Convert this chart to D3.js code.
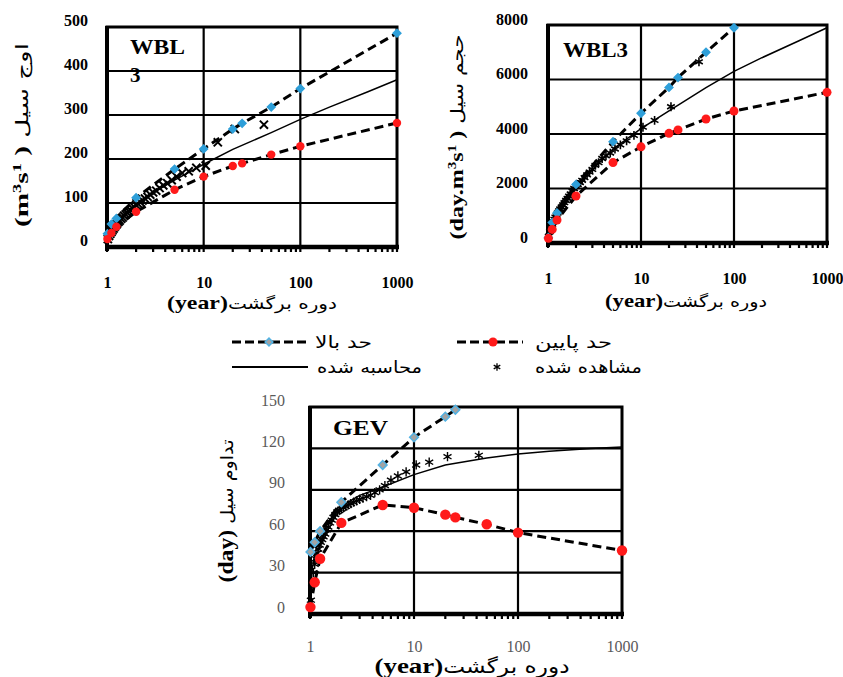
<!DOCTYPE html>
<html>
<head>
<meta charset="utf-8">
<script src="https://cdn.jsdelivr.net/npm/d3@7"></script>
<style>
  body { margin: 0; background: #fff; }
</style>
</head>
<body>
<svg width="843" height="677"></svg>
<script>
// return periods (years)
const boundT = [1.01, 1.11, 1.25, 2, 5, 10, 20, 25, 50, 100, 1000];
const calcT = [1.001, 1.01, 1.05, 1.1, 1.2, 1.5, 2, 3, 5, 10, 20, 50, 100, 200, 500, 1000];
const obsT = [42, 21, 14, 10.5, 8.4, 7, 6, 5.25, 4.67, 4.2, 3.82, 3.5, 3.23, 3, 2.8, 2.63, 2.47, 2.33, 2.21, 2.1,
  2, 1.91, 1.83, 1.75, 1.68, 1.62, 1.56, 1.5, 1.45, 1.4, 1.35, 1.31, 1.27, 1.24, 1.2, 1.17, 1.14, 1.11, 1.08, 1.05, 1.02];
const xTicks = [1, 10, 100, 1000];

// peak flow, WBL3 (m3/s)
const peakUpper = [30, 52, 65, 112, 177, 223, 268, 281, 318, 360, 486];
const peakLower = [18, 32, 46, 80, 130, 160, 184, 190, 210, 229, 282];
const peakCalc = [8, 18, 30, 40, 52, 75, 97, 123, 152, 188, 222, 260, 290, 318, 353, 380];
const peakObs = [278, 268, 238, 185, 180, 172, 168, 160, 152, 145, 140, 134, 128, 124, 119, 114, 110, 106, 102, 98,
  95, 91, 88, 84, 81, 78, 74, 71, 67, 64, 60, 57, 53, 50, 46, 42, 38, 34, 30, 25, 18];
const peakTicks = [0, 100, 200, 300, 400, 500];

// flood volume, WBL3 (day.m3/s)
const volUpper = [200, 750, 1100, 2150, 3720, 4760, 5710, 6070, 7000, 7900, null];
const volLower = [170, 500, 840, 1725, 2950, 3530, 4025, 4150, 4550, 4845, 5530];
const volCalc = [50, 250, 550, 800, 1150, 1650, 2100, 2700, 3450, 4200, 4850, 5700, 6300, 6800, 7420, 7900];
const volObs = [6650, 5000, 4500, 4250, 3950, 3750, 3600, 3450, 3300, 3200, 3100, 2950, 2850, 2700, 2600, 2500, 2400, 2300, 2220, 2150,
  2080, 2000, 1900, 1800, 1720, 1640, 1560, 1480, 1400, 1320, 1250, 1180, 1100, 1020, 950, 870, 780, 680, 560, 420, 250];
const volTicks = [0, 2000, 4000, 6000, 8000];

// flood duration, GEV (day)
const durUpper = [45, 52, 60, 81, 108, 128, 143, 148, null, null, null];
const durLower = [5, 23, 40, 66, 79, 77, 72, 70, 65, 59, 46];
const durCalc = [5, 15, 32, 42, 53, 67, 78, 86, 92, 101, 108, 113, 116, 118, 120, 121];
const durObs = [115, 114, 110, 108, 103, 100, 97, 93, 90, 88, 86, 85, 84, 83, 82, 81, 80, 79, 78, 77,
  76, 75, 74, 72, 70, 68, 66, 63, 61, 58, 56, 54, 52, 50, 47, 44, 40, 36, 30, 22, 10];
const durTicks = [0, 30, 60, 90, 120, 150];

const serif = '"Liberation Serif", "Times New Roman", serif';
const pers = '"DejaVu Sans", sans-serif';
const blue = '#2e9fd9';
const red = '#ff1a1a';

const svg = d3.select('svg');

const panels = [
  {
    left: 107, right: 397, top: 27, bottom: 247, yMax: 500, yTicks: peakTicks,
    upper: peakUpper, lower: peakLower, calc: peakCalc, obs: peakObs,
    yLabelX: 88, yLabelShift: 7, xLabelY: 282, labelWeight: 'bold', labelColor: '#000', labelSize: 16,
    obsSymbol: d3.symbolTimes, obsSize: 45, obsWidth: 2, diamondFill: blue, diamondStroke: blue, diamondSize: 30, dotR: 4.2,
    name: [{ t: 'WBL', x: 130, y: 54, len: 55 }, { t: '3', x: 130, y: 82 }], nameSize: 21,
    xTitle: { x: 252, y: 309, len: 170, parts: [{ t: '(year)', f: serif, w: 'bold', s: 19 }, { t: 'دوره برگشت', f: pers, s: 16 }] },
    yTitle: { x: 28, y: 135, len: 184, parts: [{ t: '(m', f: serif, w: 'bold', s: 19 }, { t: '3', f: serif, w: 'bold', s: 12, sup: true },
      { t: 's', f: serif, w: 'bold', s: 19 }, { t: '1', f: serif, w: 'bold', s: 12, sup: true }, { t: ' )', f: serif, w: 'bold', s: 19 },
      { t: ' اوج سیل', f: pers, s: 17 }] }
  },
  {
    left: 548, right: 827, top: 25, bottom: 243, yMax: 8000, yTicks: volTicks,
    upper: volUpper, lower: volLower, calc: volCalc, obs: volObs,
    yLabelX: 528, yLabelShift: 6, xLabelY: 278, labelWeight: 'bold', labelColor: '#000', labelSize: 16,
    obsSymbol: d3.symbolAsterisk || d3.symbolCross, obsSize: 55, obsWidth: 1.6, diamondFill: blue, diamondStroke: blue, diamondSize: 30, dotR: 4.5,
    name: [{ t: 'WBL3', x: 563, y: 57, len: 65 }], nameSize: 22,
    xTitle: { x: 686, y: 307, len: 162, parts: [{ t: '(year)', f: serif, w: 'bold', s: 19 }, { t: 'دوره برگشت', f: pers, s: 16 }] },
    yTitle: { x: 463, y: 137, len: 205, parts: [{ t: '(day.m', f: serif, w: 'bold', s: 19 }, { t: '3', f: serif, w: 'bold', s: 12, sup: true },
      { t: 's', f: serif, w: 'bold', s: 19 }, { t: '1', f: serif, w: 'bold', s: 12, sup: true }, { t: ' )', f: serif, w: 'bold', s: 19 },
      { t: ' حجم سیل', f: pers, s: 17 }] }
  },
  {
    left: 310, right: 622, top: 407, bottom: 614, yMax: 150, yTicks: durTicks,
    upper: durUpper, lower: durLower, calc: durCalc, obs: durObs,
    yLabelX: 285, yLabelShift: 7, xLabelY: 646, labelWeight: 'normal', labelColor: '#5a5a5a', labelSize: 16,
    obsSymbol: d3.symbolAsterisk || d3.symbolCross, obsSize: 60, obsWidth: 1.4, diamondFill: '#a3a3a3', diamondStroke: '#52b2e3', diamondSize: 38, dotR: 5.2,
    name: [{ t: 'GEV', x: 333, y: 435, len: 55 }], nameSize: 21,
    xTitle: { x: 472, y: 673, len: 195, parts: [{ t: '(year)', f: serif, w: 'bold', s: 22 }, { t: 'دوره برگشت', f: pers, s: 19 }] },
    yTitle: { x: 233, y: 511, len: 143, parts: [{ t: '(day)', f: serif, w: 'bold', s: 21 }, { t: ' تداوم سیل', f: pers, s: 17 }] }
  }
];

function drawTitle(tt, rotate) {
  const text = svg.append('text')
    .attr('transform', `translate(${tt.x},${tt.y})` + (rotate ? ' rotate(-90)' : ''))
    .attr('text-anchor', 'middle')
    .attr('textLength', tt.len)
    .attr('lengthAdjust', 'spacingAndGlyphs')
    .attr('fill', '#000');
  let raised = false;
  tt.parts.forEach(p => {
    const span = text.append('tspan')
      .attr('font-family', p.f)
      .attr('font-weight', p.w || 'normal')
      .attr('font-size', p.s)
      .text(p.t);
    if (p.sup && !raised) { span.attr('dy', -7); raised = true; }
    else if (!p.sup && raised) { span.attr('dy', 7); raised = false; }
  });
}

panels.forEach(p => {
  const x = d3.scaleLog().domain([1, 1000]).range([p.left, p.right]);
  const y = d3.scaleLinear().domain([0, p.yMax]).range([p.bottom, p.top]);
  const g = svg.append('g');

  // grid
  g.append('g').selectAll('line').data(p.yTicks.slice(1, -1)).join('line')
    .attr('x1', p.left).attr('x2', p.right)
    .attr('y1', d => y(d)).attr('y2', d => y(d))
    .attr('stroke', '#000').attr('stroke-width', 2.2);
  g.append('g').selectAll('line').data([10, 100]).join('line')
    .attr('x1', d => x(d)).attr('x2', d => x(d))
    .attr('y1', p.top).attr('y2', p.bottom)
    .attr('stroke', '#000').attr('stroke-width', 2.2);

  // frame
  g.append('rect')
    .attr('x', p.left).attr('y', p.top)
    .attr('width', p.right - p.left).attr('height', p.bottom - p.top)
    .attr('fill', 'none').attr('stroke', '#000').attr('stroke-width', 3);
  g.append('line').attr('x1', p.left).attr('x2', p.left).attr('y1', p.top - 1).attr('y2', p.bottom + 4)
    .attr('stroke', '#000').attr('stroke-width', 4);
  g.append('line').attr('x1', p.left - 2).attr('x2', p.right + 2).attr('y1', p.bottom).attr('y2', p.bottom)
    .attr('stroke', '#000').attr('stroke-width', 4.5);

  // minor log ticks under the frame
  g.append('g').selectAll('line').data(x.ticks()).join('line')
    .attr('x1', d => x(d)).attr('x2', d => x(d))
    .attr('y1', p.bottom).attr('y2', p.bottom + 5)
    .attr('stroke', '#000').attr('stroke-width', 2.2);

  // axes labels
  const xAxis = g.append('g')
    .attr('transform', `translate(0,${p.xLabelY})`)
    .call(d3.axisBottom(x).tickValues(xTicks).tickFormat(d3.format('d')).tickSize(0).tickPadding(0));
  const yAxis = g.append('g')
    .attr('transform', `translate(${p.yLabelX},${-p.yLabelShift})`)
    .call(d3.axisLeft(y).tickValues(p.yTicks).tickFormat(d3.format('d')).tickSize(0).tickPadding(0));
  [xAxis, yAxis].forEach(a => {
    a.select('.domain').remove();
    a.selectAll('text')
      .attr('font-family', serif)
      .attr('font-weight', p.labelWeight)
      .attr('font-size', p.labelSize)
      .attr('fill', p.labelColor);
  });
  xAxis.selectAll('text').attr('y', 0).attr('dy', '0.35em');

  // series
  const line = d3.line()
    .defined(d => d[1] != null)
    .x(d => x(d[0])).y(d => y(d[1]));
  const upperPts = d3.zip(boundT, p.upper).filter(d => d[1] != null);
  const lowerPts = d3.zip(boundT, p.lower).filter(d => d[1] != null);

  g.append('path').datum(upperPts).attr('d', line)
    .attr('fill', 'none').attr('stroke', '#000').attr('stroke-width', 3).attr('stroke-dasharray', '9,5');
  g.append('path').datum(lowerPts).attr('d', line)
    .attr('fill', 'none').attr('stroke', '#000').attr('stroke-width', 3).attr('stroke-dasharray', '9,5');
  g.append('path').datum(d3.zip(calcT, p.calc)).attr('d', line)
    .attr('fill', 'none').attr('stroke', '#000').attr('stroke-width', 1.5);

  g.append('g').selectAll('path').data(d3.zip(obsT, p.obs)).join('path')
    .attr('transform', d => `translate(${x(d[0])},${y(d[1])})`)
    .attr('d', d3.symbol().type(p.obsSymbol).size(p.obsSize))
    .attr('fill', 'none').attr('stroke', '#000').attr('stroke-width', p.obsWidth);

  g.append('g').selectAll('path').data(upperPts).join('path')
    .attr('transform', d => `translate(${x(d[0])},${y(d[1])}) rotate(0)`)
    .attr('d', d3.symbol().type(d3.symbolSquare).size(p.diamondSize))
    .attr('transform', d => `translate(${x(d[0])},${y(d[1])}) rotate(45)`)
    .attr('fill', p.diamondFill).attr('stroke', p.diamondStroke).attr('stroke-width', 1.5);
  g.append('g').selectAll('circle').data(lowerPts).join('circle')
    .attr('cx', d => x(d[0])).attr('cy', d => y(d[1])).attr('r', p.dotR)
    .attr('fill', red);

  // model name
  p.name.forEach(n => {
    const t = g.append('text').attr('x', n.x).attr('y', n.y)
      .attr('font-family', serif).attr('font-weight', 'bold').attr('font-size', p.nameSize)
      .text(n.t);
    if (n.len) t.attr('textLength', n.len).attr('lengthAdjust', 'spacingAndGlyphs');
  });

  drawTitle(p.xTitle, false);
  drawTitle(p.yTitle, true);
});

// legend
const legendItems = [
  { label: 'حد بالا', kind: 'upper', x0: 232, x1: 308, mx: 269, y: 342, tx: 315, tlen: 57 },
  { label: 'حد پایین', kind: 'lower', x0: 457, x1: 523, mx: 493, y: 342, tx: 535, tlen: 77 },
  { label: 'محاسبه شده', kind: 'calc', x0: 232, x1: 308, y: 367, tx: 317, tlen: 105 },
  { label: 'مشاهده شده', kind: 'obs', mx: 497, y: 367, tx: 535, tlen: 107 }
];
const lg = svg.append('g');
legendItems.forEach(it => {
  if (it.kind === 'upper' || it.kind === 'lower') {
    lg.append('line').attr('x1', it.x0).attr('x2', it.x1).attr('y1', it.y).attr('y2', it.y)
      .attr('stroke', '#000').attr('stroke-width', 3).attr('stroke-dasharray', '9,4');
  }
  if (it.kind === 'upper') {
    lg.append('path').attr('transform', `translate(${it.mx},${it.y}) rotate(45)`)
      .attr('d', d3.symbol().type(d3.symbolSquare).size(30))
      .attr('fill', '#a3a3a3').attr('stroke', '#52b2e3').attr('stroke-width', 1.5);
  }
  if (it.kind === 'lower') {
    lg.append('circle').attr('cx', it.mx).attr('cy', it.y).attr('r', 4.5).attr('fill', red);
  }
  if (it.kind === 'calc') {
    lg.append('line').attr('x1', it.x0).attr('x2', it.x1).attr('y1', it.y).attr('y2', it.y)
      .attr('stroke', '#000').attr('stroke-width', 1.8);
  }
  if (it.kind === 'obs') {
    lg.append('path').attr('transform', `translate(${it.mx},${it.y})`)
      .attr('d', d3.symbol().type(d3.symbolAsterisk || d3.symbolCross).size(40))
      .attr('fill', 'none').attr('stroke', '#000').attr('stroke-width', 1.3);
  }
  lg.append('text').attr('x', it.tx).attr('y', it.y + 6)
    .attr('font-family', pers).attr('font-size', 17)
    .attr('textLength', it.tlen).attr('lengthAdjust', 'spacingAndGlyphs')
    .text(it.label);
});
</script>
</body>
</html>
